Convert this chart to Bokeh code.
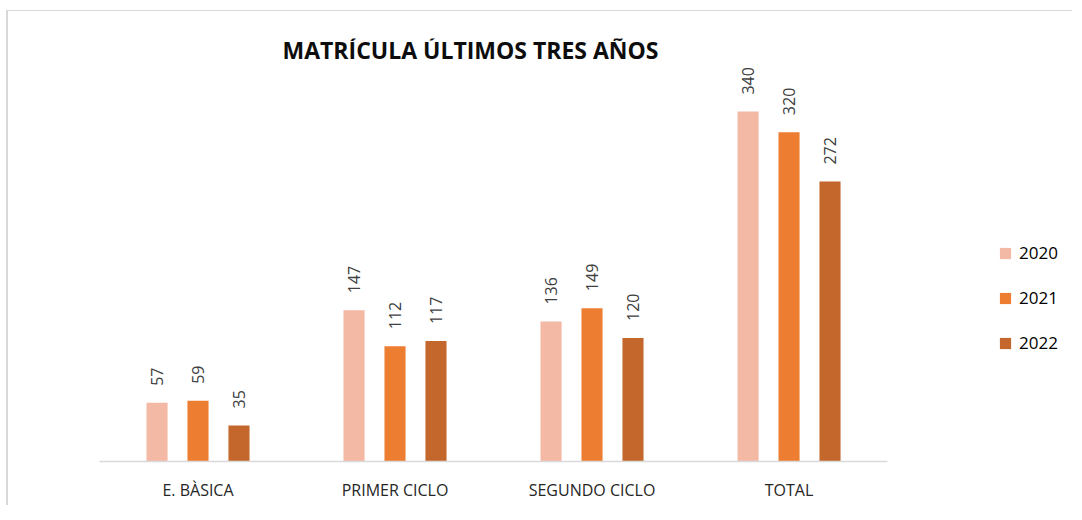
import math
from bokeh.plotting import figure
from bokeh.models import ColumnDataSource, Range1d, LabelSet, Label, Legend, LegendItem, FixedTicker
from bokeh.transform import dodge
from bokeh.core.properties import value
from bokeh.embed import file_html
from bokeh.resources import INLINE

categories = ["E. BÀSICA", "PRIMER CICLO", "SEGUNDO CICLO", "TOTAL"]
years = ["2020", "2021", "2022"]
v2020 = [57, 147, 136, 340]
v2021 = [59, 112, 149, 320]
v2022 = [35, 117, 120, 272]
colors = ["#F4B9A4", "#ED7D31", "#C4672C"]

series = [v2020, v2021, v2022]
offsets = [-0.208, 0.0, 0.208]
idx = list(range(len(categories)))

p = figure(x_range=Range1d(-0.5, 4.449), y_range=Range1d(0, 411),
           width=1066, height=495, output_backend="svg", toolbar_location=None,
           min_border_left=91, min_border_right=0, min_border_top=27, min_border_bottom=45)
p.styles = {"margin-left": "6px", "margin-top": "10px",
            "border-top": "1px solid #d9d9d9", "border-left": "2px solid #d9d9d9"}

items = []
for yr, vals, col, off in zip(years, series, colors, offsets):
    src = ColumnDataSource(dict(x=idx, val=vals, lab=[str(v) for v in vals]))
    r = p.vbar(x=dodge("x", off), top="val", width=0.107, source=src,
               fill_color=col, line_color=None)
    items.append(LegendItem(label=yr, renderers=[r]))
    p.add_layout(LabelSet(x=dodge("x", off), y="val", text="lab", source=src,
                          angle=math.pi / 2, text_align="left", text_baseline="middle",
                          y_offset=17, text_font=value("Open Sans"), text_font_size=value("16px"),
                          text_color="#404040"))

legend = Legend(items=items, location=(899, 107), orientation="vertical",
                padding=0, margin=0, spacing=22, glyph_width=14, glyph_height=14,
                label_height=23, label_standoff=7, label_text_font="Open Sans",
                label_text_font_size="17px", label_text_color="#000000",
                border_line_alpha=0, background_fill_alpha=0)
p.add_layout(legend)

p.add_layout(Label(x=371, y=412, x_units="screen", y_units="screen",
                   text="MATRÍCULA ÚLTIMOS TRES AÑOS", text_align="center", text_baseline="middle",
                   text_font="Open Sans", text_font_style="bold", text_font_size="23px",
                   text_color="#0d0d0d"))

p.yaxis.visible = False
p.xgrid.grid_line_color = None
p.ygrid.grid_line_color = None
p.outline_line_color = None
p.xaxis.ticker = FixedTicker(ticks=idx)
p.xaxis.major_label_overrides = {i: c for i, c in zip(idx, categories)}
p.xaxis.bounds = (-0.5, len(categories) - 0.5)
p.xaxis.axis_line_color = "#d9d9d9"
p.xaxis.axis_line_width = 1.5
p.xaxis.major_tick_line_color = None
p.xaxis.minor_tick_line_color = None
p.xaxis.major_label_standoff = 11
p.xaxis.major_label_text_font = "Open Sans"
p.xaxis.major_label_text_font_size = "16px"
p.xaxis.major_label_text_color = "#262626"

open("out.html", "w").write(file_html(p, INLINE))
